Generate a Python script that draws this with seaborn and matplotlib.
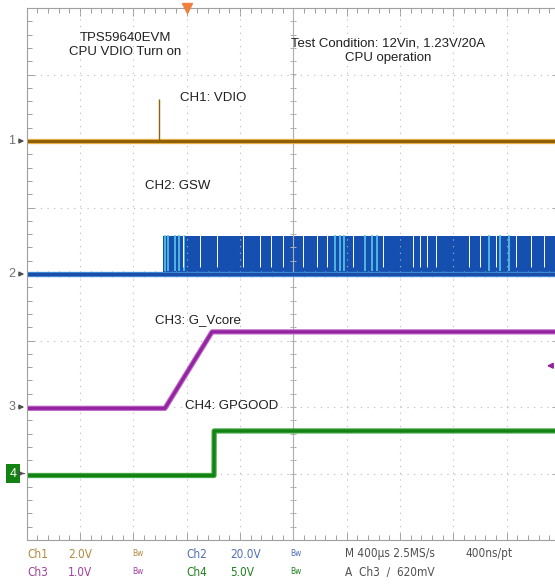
import numpy as np
import pandas as pd
import matplotlib
matplotlib.use("Agg")
import matplotlib.pyplot as plt
import matplotlib.transforms as mtransforms
import seaborn as sns

# scope settings (volts per division, ground offset in divisions)
ch_scale = {"CH1": 2.0, "CH2": 20.0, "CH3": 1.0, "CH4": 5.0}
ch_offset = {"CH1": 2.0, "CH2": 0.0, "CH3": -2.0, "CH4": -3.0}
ch_color = {"CH1": "#8e6008", "CH2": "#1c4ea8", "CH3": "#9224a0", "CH4": "#128212"}
ch_edge = {"CH1": "#e8b448", "CH2": "#3c8ad8", "CH3": "#c068c8", "CH4": "#48a848"}

# time in ms, trigger at 0 (400us/div)
t_ch1 = [-1.2, 2.8]
v_ch1 = [0.0, 0.0]
spike_t = -0.21
spike_v = 1.26

t_ch2 = [-1.2, 2.8]
v_ch2 = [0.0, 0.0]
sw_start = -0.18
sw_end = 2.8
sw_high = 11.3
cyan_t = [-0.163, -0.14, -0.09, -0.06, -0.02, 1.11, 1.15, 1.18, 1.34, 1.39, 1.43, 2.27, 2.35, 2.42]
gap_t = [-0.03, 0.10, 0.23, 0.42, 0.55, 0.63, 0.72, 0.87, 0.98, 1.05, 1.25, 1.47,
         1.70, 1.75, 1.80, 1.87, 2.12, 2.20, 2.32, 2.47, 2.58, 2.68]

t_ch3 = [-1.2, -0.163, 0.19, 2.8]
v_ch3 = [-0.02, -0.02, 1.13, 1.13]
trig_level = 0.62

t_ch4 = [-1.2, 0.205, 0.206, 2.8]
v_ch4 = [-0.15, -0.15, 3.2, 3.2]

status_row1 = [("Ch1", "#b08a40"), ("2.0V", "#b08a40"), ("Bw", "#b08a40"), ("Ch2", "#5070b0"),
               ("20.0V", "#5070b0"), ("Bw", "#5070b0"), ("M 400\u00b5s 2.5MS/s", "#505050"), ("400ns/pt", "#505050")]
status_row2 = [("Ch3", "#a040a0"), ("1.0V", "#a040a0"), ("Bw", "#a040a0"), ("Ch4", "#208020"),
               ("5.0V", "#208020"), ("Bw", "#208020"), ("A  Ch3  \u2215  620mV", "#505050")]
status_x = [27, 68, 132, 186, 230, 290, 345, 465]

sns.set_style("white")
plt.rcParams["font.family"] = ["Liberation Sans", "DejaVu Sans"]

fig = plt.figure(figsize=(5.55, 5.84), dpi=100)
ax = fig.add_axes([26.7 / 555, 44 / 584, 533.3 / 555, 532 / 584])
ax.set_xlim(-1.2, 2.8)
ax.set_ylim(-4, 4)


def to_div(ch, v):
    return ch_offset[ch] + np.asarray(v) / ch_scale[ch]


# graticule
grid_kw = dict(color="#b8b8b8", lw=0.8, dashes=(1, 5))
for xv in np.arange(-1.2, 2.81, 0.4):
    ax.axvline(xv, **grid_kw)
for yv in np.arange(-4, 4.1, 1):
    ax.axhline(yv, **grid_kw)
ax.axvline(0.8, color="#b0b0b0", lw=0.8)
ax.axhline(0, color="#b0b0b0", lw=0.8)
ax.plot(np.arange(-1.2, 2.81, 0.08), np.zeros(51), ls="", marker="|", ms=5, mew=0.7, color="#b0b0b0")
ax.plot(np.full(41, 0.8), np.arange(-4, 4.01, 0.2), ls="", marker="_", ms=5, mew=0.7, color="#b0b0b0")

ax.set_xticks(np.arange(-1.2, 2.81, 0.4))
ax.set_xticks(np.arange(-1.2, 2.81, 0.08), minor=True)
ax.set_yticks(np.arange(-4, 4.1, 1))
ax.set_yticks(np.arange(-4, 4.01, 0.2), minor=True)
ax.tick_params(which="both", direction="in", top=True, right=True, bottom=True, left=True,
               labelbottom=False, labelleft=False, color="#a0a0a0", width=0.7)
ax.tick_params(which="major", length=6)
ax.tick_params(which="minor", length=3.5)
for s in ax.spines.values():
    s.set_color("#a0a0a0")
    s.set_linewidth(0.8)

# CH2 switching band
b = to_div("CH2", 0)
top = to_div("CH2", sw_high)
ax.fill_between([sw_start, sw_end], [b, b], [top, top], color="#1550b0", lw=0)
ax.vlines(cyan_t, b + 0.05, top + 0.02, color="#58c8e8", lw=1.2)
ax.vlines(gap_t, b + 0.1, top + 0.02, color="white", lw=0.7)

# traces
df = pd.concat([
    pd.DataFrame({"t": t_ch1, "v": to_div("CH1", v_ch1), "ch": "CH1"}),
    pd.DataFrame({"t": t_ch2, "v": to_div("CH2", v_ch2), "ch": "CH2"}),
    pd.DataFrame({"t": t_ch3, "v": to_div("CH3", v_ch3), "ch": "CH3"}),
    pd.DataFrame({"t": t_ch4, "v": to_div("CH4", v_ch4), "ch": "CH4"}),
])
for ch, g in df.groupby("ch"):
    sns.lineplot(data=g, x="t", y="v", ax=ax, color=ch_edge[ch], lw=3.8, sort=False,
                 estimator=None, legend=False)
    sns.lineplot(data=g, x="t", y="v", ax=ax, color=ch_color[ch], lw=2.2, sort=False,
                 estimator=None, legend=False)
ax.vlines([spike_t], to_div("CH1", 0), to_div("CH1", spike_v), color=ch_color["CH1"], lw=1)
ax.set_xlabel("")
ax.set_ylabel("")

# trigger markers
ax.plot([0], [4], marker="v", ms=7, color="#f08040", clip_on=False, zorder=5)
ax.annotate("", xy=(2.68, to_div("CH3", trig_level)), xytext=(2.76, to_div("CH3", trig_level)),
            arrowprops=dict(arrowstyle="-|>", color=ch_color["CH3"], lw=1.2, mutation_scale=8))

# channel ground markers on the left
tr = mtransforms.blended_transform_factory(fig.transFigure, ax.transData)
for ch, lab in zip(["CH1", "CH2", "CH3"], ["1", "2", "3"]):
    y = ch_offset[ch]
    ax.text(12 / 555, y, lab, transform=tr, ha="center", va="center", fontsize=9, color="#707070")
    ax.annotate("", xy=(27 / 555, y), xytext=(16 / 555, y), xycoords=tr, textcoords=tr,
                arrowprops=dict(arrowstyle="-|>", color="#505050", lw=0.9, mutation_scale=7))
y4 = ch_offset["CH4"]
ax.text(13 / 555, y4, "4", transform=tr, ha="center", va="center", fontsize=9, color="white",
        bbox=dict(boxstyle="square,pad=0.3", fc=ch_color["CH4"], ec="none"))
ax.annotate("", xy=(27 / 555, y4), xytext=(21 / 555, y4), xycoords=tr, textcoords=tr,
            arrowprops=dict(arrowstyle="-|>", color="#505050", lw=0.9, mutation_scale=7))

# annotations (figure pixel positions, top-left origin)
def fig_text(x, y, s, **kw):
    fig.text(x / 555, 1 - y / 584, s, fontsize=9.5, color="#202020", va="center", **kw)


fig_text(125, 38, "TPS59640EVM", ha="center")
fig_text(125, 52, "CPU VDIO Turn on", ha="center")
fig_text(388, 44, "Test Condition: 12Vin, 1.23V/20A", ha="center")
fig_text(388, 58, "CPU operation", ha="center")
fig_text(180, 98, "CH1: VDIO", ha="left")
fig_text(145, 186, "CH2: GSW", ha="left")
fig_text(155, 320, "CH3: G_Vcore", ha="left")
fig_text(185, 406, "CH4: GPGOOD", ha="left")

# status lines
for row, yy in [(status_row1, 554), (status_row2, 572)]:
    for (s, c), x in zip(row, status_x):
        fs = 6 if s == "Bw" else 8.5
        fig.text(x / 555, 1 - yy / 584, s, fontsize=fs, color=c, va="center", ha="left",
                 family=["DejaVu Sans"], fontstretch="condensed")

fig.savefig("out.png", dpi=100, facecolor="white")
